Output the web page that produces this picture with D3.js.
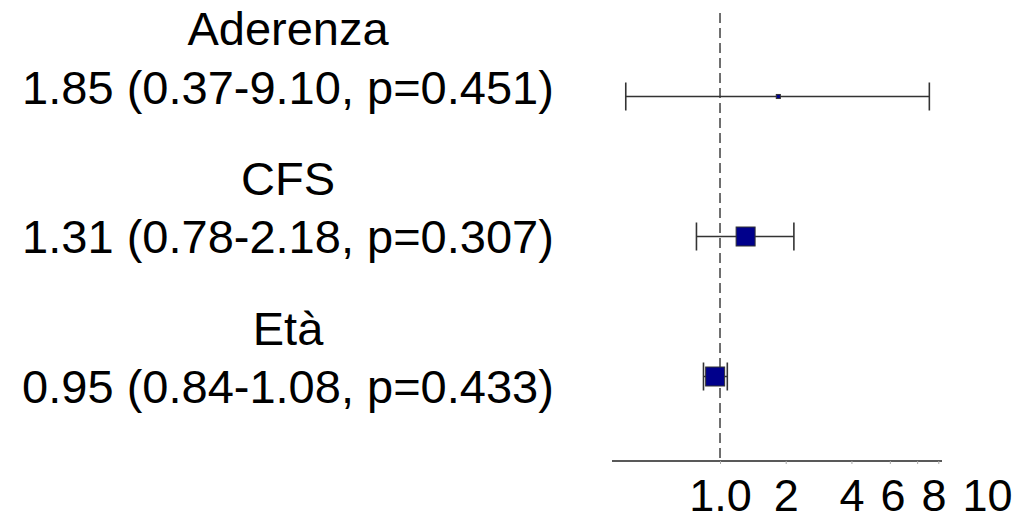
<!DOCTYPE html>
<meta charset="utf-8">
<style>
body { margin: 0; background: #fff; }
text { font-family: "Liberation Sans", Arial, sans-serif; fill: #000; }
</style>
<script src="https://cdn.jsdelivr.net/npm/d3@7"></script>
<body>
<script>
// data
var names = ["Aderenza", "CFS", "Età"];
var est = [1.85, 1.31, 0.95];
var lower = [0.37, 0.78, 0.84];
var upper = [9.10, 2.18, 1.08];
var pvals = ["0.451", "0.307", "0.433"];
var tickVals = [1, 2, 4, 6, 8, 10];
var tickLabels = ["1.0", "2", "4", "6", "8", "10"];

var W = 1016, H = 521;
var svg = d3.select("body").append("svg")
  .attr("width", W).attr("height", H);

var x = d3.scaleLog().domain([0.32, 10.4]).range([612, 942]);
var y = d3.scalePoint().domain(names).range([96.5, 376.5]);
// label block sits on its own (slightly wider) spacing
var yLab = d3.scalePoint().domain(names).range([45, 344.5]);

// box size from precision of the estimate (1/se^2), capped
var prec = lower.map(function(l, i) {
  var se = Math.log(upper[i] / l) / (2 * 1.96);
  return 1 / (se * se);
});
var boxSize = d3.scaleLinear().domain([0, 7]).range([0, 19]).clamp(true);

// text column
var lab = svg.append("g");
names.forEach(function(n, i) {
  lab.append("text").attr("x", 288).attr("y", yLab(n))
    .attr("text-anchor", "middle").attr("font-size", "47px").text(n);
  lab.append("text").attr("x", 288).attr("y", yLab(n) + 58.5)
    .attr("text-anchor", "middle").attr("font-size", "47px")
    .text(est[i].toFixed(2) + " (" + lower[i].toFixed(2) + "-" + upper[i].toFixed(2) + ", p=" + pvals[i] + ")");
});

// reference line at 1
svg.append("line")
  .attr("x1", x(1)).attr("x2", x(1)).attr("y1", 13).attr("y2", 461)
  .attr("stroke", "#333").attr("stroke-width", 1.4)
  .attr("stroke-dasharray", "10,5");

// axis
var axis = d3.axisBottom(x).tickValues(tickVals).tickSize(3).tickFormat(function(d, i) { return tickLabels[i]; });
var gx = svg.append("g").attr("transform", "translate(0,461)").call(axis);
gx.select(".domain").attr("stroke", "#222").attr("stroke-width", 1.4).attr("d", "M" + x.range()[0] + ",0H" + x.range()[1]);
gx.selectAll(".tick line").attr("stroke", "#aaa");
gx.selectAll(".tick text").attr("font-size", "45px").attr("font-family", "Liberation Sans, Arial, sans-serif")
  .attr("fill", "#000").attr("y", 50).attr("dy", 0);

// push labels apart so they do not overlap
var prevEnd = -Infinity;
gx.selectAll(".tick").each(function(d) {
  var t = d3.select(this).select("text");
  var w = t.node().getComputedTextLength();
  var cx = x(d);
  if (cx - w / 2 < prevEnd + 16) cx = prevEnd + 16 + w / 2;
  t.attr("x", cx - x(d));
  prevEnd = cx + w / 2;
});

// whiskers and boxes
var rows = svg.selectAll("g.row").data(names).enter().append("g").attr("class", "row");
rows.append("line")
  .attr("x1", function(d, i) { return x(lower[i]); })
  .attr("x2", function(d, i) { return x(upper[i]); })
  .attr("y1", function(d) { return y(d); }).attr("y2", function(d) { return y(d); })
  .attr("stroke", "#333").attr("stroke-width", 1.5);
[lower, upper].forEach(function(arr) {
  rows.append("line")
    .attr("x1", function(d, i) { return x(arr[i]); })
    .attr("x2", function(d, i) { return x(arr[i]); })
    .attr("y1", function(d) { return y(d) - 14; })
    .attr("y2", function(d) { return y(d) + 14; })
    .attr("stroke", "#333").attr("stroke-width", 1.6);
});
rows.append("rect")
  .attr("x", function(d, i) { return x(est[i]) - Math.max(3, boxSize(prec[i])) / 2; })
  .attr("y", function(d, i) { return y(d) - Math.max(3, boxSize(prec[i])) / 2; })
  .attr("width", function(d, i) { return Math.max(3, boxSize(prec[i])); })
  .attr("height", function(d, i) { return Math.max(3, boxSize(prec[i])); })
  .attr("fill", "#00008b").attr("stroke", "#333").attr("stroke-width", 1);
</script>
</body>
